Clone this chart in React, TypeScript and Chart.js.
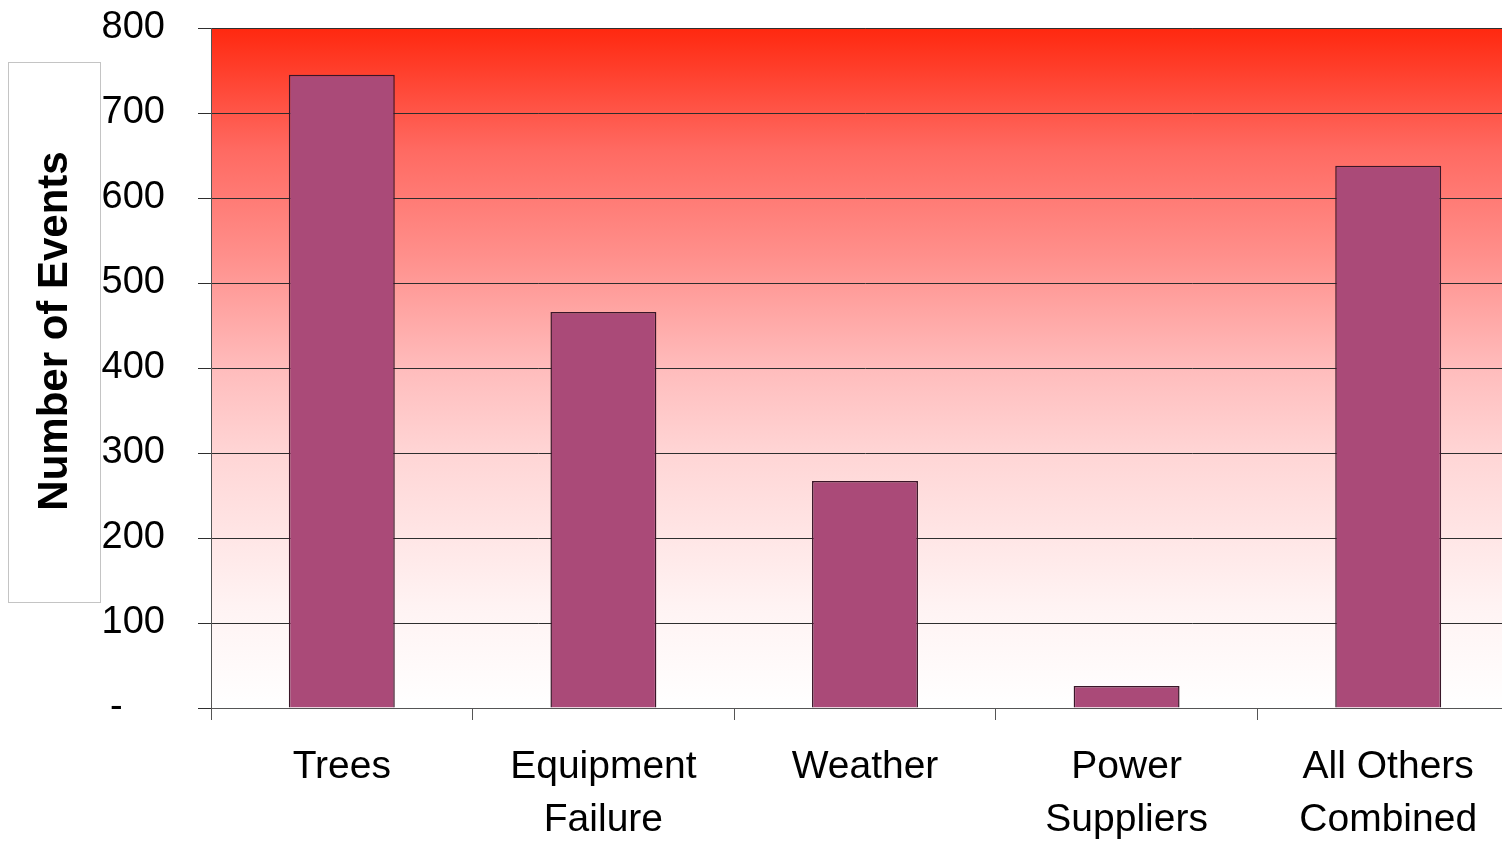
import React, { useEffect, useRef } from "react";
import { Chart, registerables } from "chart.js";

Chart.register(...registerables);

const categories: (string | string[])[] = [
  "Trees",
  ["Equipment", "Failure"],
  "Weather",
  ["Power", "Suppliers"],
  ["All Others", "Combined"],
];
const eventCounts: number[] = [745, 466, 267, 26, 638];
const yAxisTitle = "Number of Events";
const yTickMin = 0;
const yTickMax = 800;
const yTickStep = 100;

const FONT = '"Liberation Sans", Arial, sans-serif';

const backgroundPlugin = {
  id: "plotBackground",
  beforeDraw(chart: any) {
    const { ctx, chartArea } = chart;
    if (!chartArea) return;
    const g = ctx.createLinearGradient(0, chartArea.top, 0, chartArea.bottom);
    g.addColorStop(0, "rgb(255,40,15)");
    g.addColorStop(0.18, "rgb(255,106,98)");
    g.addColorStop(0.33, "rgb(255,142,138)");
    g.addColorStop(0.5, "rgb(255,188,188)");
    g.addColorStop(0.63, "rgb(255,214,214)");
    g.addColorStop(0.85, "rgb(255,243,243)");
    g.addColorStop(1, "rgb(255,255,255)");
    ctx.save();
    ctx.fillStyle = g;
    ctx.fillRect(
      chartArea.left,
      chartArea.top,
      chartArea.right - chartArea.left,
      chartArea.bottom - chartArea.top
    );
    ctx.restore();
  },
  afterDraw(chart: any) {
    const { ctx } = chart;
    ctx.save();
    ctx.strokeStyle = "#c4c4c4";
    ctx.lineWidth = 1;
    ctx.strokeRect(8.5, 62.5, 92, 540);
    ctx.translate(55, 331);
    ctx.rotate(-Math.PI / 2);
    ctx.fillStyle = "#000";
    ctx.font = `bold 42px ${FONT}`;
    ctx.textAlign = "center";
    ctx.textBaseline = "middle";
    ctx.fillText(yAxisTitle, 0, 0);
    ctx.restore();
  },
};

export default function App() {
  const ref = useRef<HTMLCanvasElement | null>(null);
  useEffect(() => {
    if (!ref.current) return;
    const chart = new Chart(ref.current, {
      type: "bar",
      data: {
        labels: categories,
        datasets: [
          {
            data: eventCounts,
            backgroundColor: "#AA4A78",
            borderColor: "#3A1628",
            borderWidth: 1.5,
            barPercentage: 0.405,
            categoryPercentage: 1,
          },
        ],
      },
      options: {
        responsive: false,
        animation: false,
        devicePixelRatio: 1,
        layout: { padding: { top: 28, left: 0, right: 0, bottom: 0 } },
        plugins: {
          legend: { display: false },
          tooltip: { enabled: false },
          title: { display: false },
        },
        scales: {
          x: {
            offset: true,
            grid: {
              display: true,
              drawOnChartArea: false,
              drawTicks: true,
              tickLength: 12,
              color: "#555",
              offset: true,
            },
            border: { display: true, color: "#555", width: 1 },
            ticks: {
              color: "#000",
              font: { family: FONT, size: 39, lineHeight: 1.36 },
              padding: 21,
              maxRotation: 0,
              autoSkip: false,
            },
            afterFit(scale: any) {
              scale.height = 133;
              scale.paddingLeft = 0;
              scale.paddingRight = 0;
            },
          },
          y: {
            min: yTickMin,
            max: yTickMax,
            grid: {
              color: "#2e2e2e",
              lineWidth: 1,
              tickLength: 13,
              drawTicks: true,
            },
            border: { display: true, color: "#555", width: 1 },
            ticks: {
              stepSize: yTickStep,
              color: "#000",
              padding: 33,
              font: { family: FONT, size: 38 },
              callback: (v: any) => (Number(v) === 0 ? "-    " : String(v)),
            },
            afterFit(scale: any) {
              scale.width = 211;
              scale.paddingTop = 0;
              scale.paddingBottom = 0;
            },
          },
        },
      },
      plugins: [backgroundPlugin],
    });
    return () => chart.destroy();
  }, []);
  return (
    <div
      style={{
        position: "fixed",
        left: 0,
        top: 0,
        width: 1502,
        height: 841,
        overflow: "hidden",
        background: "#fff",
      }}
    >
      <canvas
        ref={ref}
        width={1519}
        height={841}
        style={{ width: 1519, height: 841, display: "block" }}
      />
    </div>
  );
}
